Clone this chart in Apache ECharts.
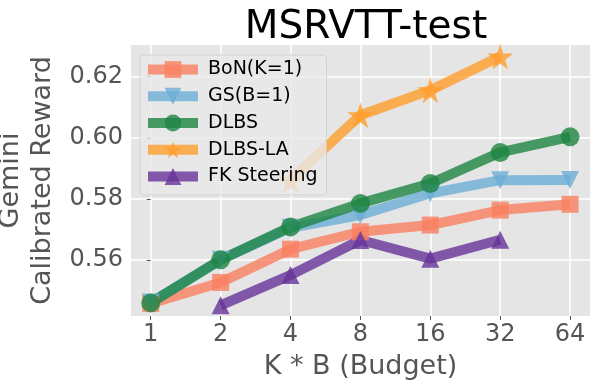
<!DOCTYPE html>
<html>
<head>
<meta charset="utf-8">
<script src="https://cdn.jsdelivr.net/npm/echarts@6/dist/echarts.min.js"></script>
<style>
    html, body { margin: 0; padding: 0; background: #fff; }
    #chart { width: 598px; height: 385px; }
</style>
</head>
<body>
<div id="chart"></div>
<script>
// budgets (K * B)
const budgets = ['1', '2', '4', '8', '16', '32', '64']
const yTicks = [0.56, 0.58, 0.60, 0.62]

// Gemini calibrated reward per method (null = not run)
const bon = [0.5457, 0.5526, 0.5635, 0.5692, 0.5714, 0.5763, 0.5782]
const gs = [0.5460, 0.5600, 0.5705, 0.5747, 0.5818, 0.5861, 0.5862]
const dlbs = [0.5459, 0.5600, 0.5708, 0.5785, 0.5850, 0.5952, 0.6003]
const dlbsLa = [null, null, 0.5861, 0.6074, 0.6156, 0.6266, null]
const fk = [null, 0.5451, 0.5550, 0.5665, 0.5604, 0.5666, null]

const font = "'DejaVu Sans', sans-serif"
const star = 'path://M50,0 L61,35 L98,35 L68,57 L79,91 L50,70 L21,91 L32,57 L2,35 L39,35 Z'

//把数组转成 [index, value]
function toPoints(arr) {
    const out = []
    arr.forEach((v, i) => {
        if (v !== null) out.push([i, v])
    })
    return out
}

function makeSeries(name, data, color, symbol, size, rotate) {
    return {
        name: name,
        type: 'line',
        data: toPoints(data),
        symbol: symbol,
        symbolSize: size,
        symbolRotate: rotate || 0,
        lineStyle: {width: 10, color: color, opacity: 0.8},
        itemStyle: {color: color, opacity: 0.8},
        emphasis: {disabled: true},
        animation: false
    }
}

const chart = echarts.init(document.getElementById('chart'), null, {renderer: 'canvas'})

const option = {
    backgroundColor: '#fff',
    title: {
        text: 'MSRVTT-test',
        left: 361,
        textAlign: 'center',
        top: 3,
        textStyle: {fontFamily: font, fontSize: 39, fontWeight: 'normal', color: '#000'}
    },
    grid: {
        left: 131,
        right: 8,
        top: 45,
        bottom: 69,
        outerBoundsMode: 'none',
        containLabel: false,
        show: true,
        backgroundColor: '#E5E5E5',
        borderWidth: 0
    },
    legend: {
        orient: 'vertical',
        left: 140,
        top: 55,
        padding: [5, 9, 9, 3],
        itemWidth: 50,
        itemHeight: 21,
        itemGap: 7.75,
        backgroundColor: 'rgba(233,233,233,0.8)',
        borderColor: 'rgba(205,205,205,0.8)',
        borderWidth: 1,
        borderRadius: 4,
        lineStyle: {width: 10},
        textStyle: {fontFamily: font, fontSize: 19, color: '#000', padding: [0, 0, 0, 5]},
        data: ['BoN(K=1)', 'GS(B=1)', 'DLBS', 'DLBS-LA', 'FK Steering']
    },
    xAxis: {
        type: 'value',
        min: -0.282,
        max: 6.285,
        name: 'K * B (Budget)',
        nameLocation: 'middle',
        nameGap: 37,
        nameTextStyle: {fontFamily: font, fontSize: 27, color: '#555'},
        axisLine: {show: false},
        axisTick: {show: true, length: 4, lineStyle: {color: '#555'}, customValues: [0, 1, 2, 3, 4, 5, 6]},
        axisLabel: {
            fontFamily: font, fontSize: 24, color: '#555', margin: 7,
            customValues: [0, 1, 2, 3, 4, 5, 6],
            formatter: v => budgets[Math.round(v)]
        },
        splitLine: {show: true, lineStyle: {color: '#fff', width: 1.5}}
    },
    yAxis: {
        type: 'value',
        min: 0.5416,
        max: 0.6304,
        name: 'Gemini\nCalibrated Reward',
        nameLocation: 'middle',
        nameRotate: 90,
        nameGap: 60,
        nameTextStyle: {fontFamily: font, fontSize: 27, color: '#555', lineHeight: 32},
        axisLine: {show: false},
        axisTick: {show: true, length: 4, lineStyle: {color: '#555'}, customValues: yTicks},
        axisLabel: {
            fontFamily: font, fontSize: 24, color: '#555', margin: 8,
            customValues: yTicks,
            formatter: v => v.toFixed(2)
        },
        splitLine: {show: true, lineStyle: {color: '#fff', width: 1.5}}
    },
    series: [
        makeSeries('BoN(K=1)', bon, '#FA8060', 'rect', 17),
        makeSeries('GS(B=1)', gs, '#6BAED6', 'triangle', 18, 180),
        makeSeries('DLBS', dlbs, '#1E8442', 'circle', 19),
        makeSeries('DLBS-LA', dlbsLa, '#FF9E2C', star, 26),
        makeSeries('FK Steering', fk, '#663399', 'triangle', 18)
    ]
}

chart.setOption(option)
</script>
</body>
</html>
